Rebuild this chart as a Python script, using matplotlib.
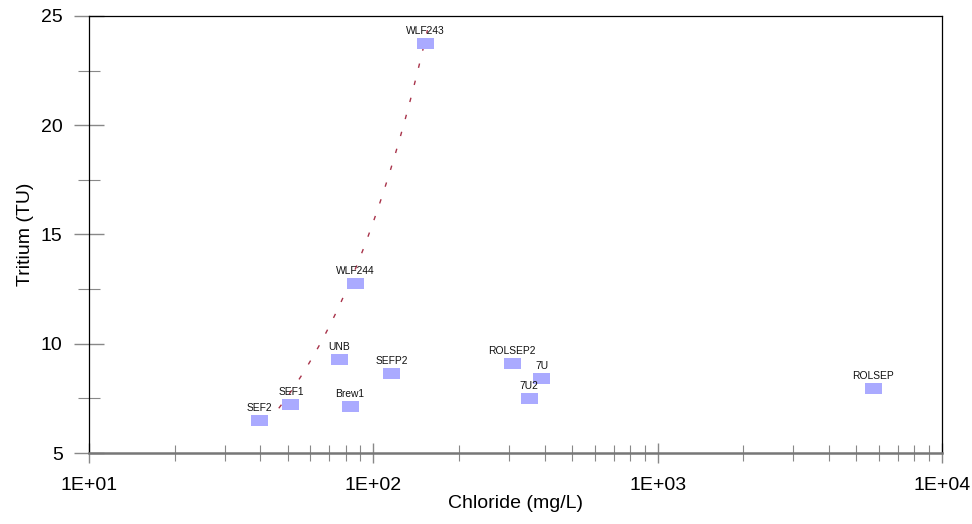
import numpy as np
import matplotlib
matplotlib.use("Agg")
import matplotlib.pyplot as plt
from matplotlib.ticker import FixedLocator, NullFormatter
from matplotlib.patches import Rectangle
from matplotlib.transforms import ScaledTranslation

plt.rcParams['font.family'] = ['Liberation Sans', 'DejaVu Sans']

# Data
sample_names = ["SEF2", "SEF1", "Brew1", "UNB", "SEFP2", "WLF244", "WLF243",
                "ROLSEP2", "7U", "7U2", "ROLSEP"]
chloride = [39.7, 51.3, 82.8, 76.0, 115.9, 86.5, 152.6, 307.6, 391.7, 353.0, 5724.0]
tritium = [6.51, 7.20, 7.15, 9.28, 8.64, 12.76, 23.74, 9.10, 8.43, 7.49, 7.97]

# Linear trend line (straight in linear space, curved on log axis)
fit_x_range = [46.5, 155.0]
fit_slope = 0.1595
fit_intercept = -0.37

x_ticks = [10, 100, 1000, 10000]
x_tick_labels = ["1E+01", "1E+02", "1E+03", "1E+04"]
y_ticks = [5, 10, 15, 20, 25]
y_minor_ticks = [7.5, 12.5, 17.5, 22.5]

fig = plt.figure(figsize=(9.72, 5.24), dpi=100)
ax = fig.add_axes([89/972, 71/524, (942-89)/972, (453-16)/524])

fx = np.linspace(fit_x_range[0], fit_x_range[1], 300)
fy = fit_intercept + fit_slope * fx
ax.plot(fx, fy, color="#A8334A", lw=1.0, ls=(0, (3.2, 9.5)), zorder=2)

# rectangular markers of fixed pixel size (17 x 11 px)
for x, y, name in zip(chloride, tritium, sample_names):
    r = Rectangle((-8.5/100, -5.5/100), 17/100, 11/100, facecolor="#AAAAFF",
                  edgecolor="none", zorder=3)
    r.set_transform(fig.dpi_scale_trans + ScaledTranslation(x, y, ax.transData))
    ax.add_patch(r)
    ax.annotate(name, (x, y), xytext=(0, 6.8), textcoords="offset points",
                ha="center", va="baseline", fontsize=7.4, color="#111111", zorder=4)

ax.set_xscale("log")
ax.set_xlim(10, 10000)
ax.set_ylim(5, 25)

ax.xaxis.set_major_locator(FixedLocator(x_ticks))
ax.set_xticklabels(x_tick_labels)
minor = [m * 10**d for d in range(1, 4) for m in range(2, 10)]
ax.xaxis.set_minor_locator(FixedLocator(minor))
ax.xaxis.set_minor_formatter(NullFormatter())
ax.set_yticks(y_ticks)
ax.yaxis.set_minor_locator(FixedLocator(y_minor_ticks))

ax.tick_params(axis="x", which="major", direction="inout", length=14, width=1,
               color="#888888", labelsize=14, pad=10)
ax.tick_params(axis="x", which="minor", direction="inout", length=12, width=0.8,
               color="#888888")
ax.tick_params(axis="y", which="major", direction="inout", length=22, width=1,
               color="#888888", labelsize=14, pad=8)
ax.tick_params(axis="y", which="minor", direction="inout", length=16, width=0.8,
               color="#888888")
ax.tick_params(top=False, right=False)

for s in ["top", "right", "left"]:
    ax.spines[s].set_color("black")
    ax.spines[s].set_linewidth(0.9)
ax.spines["bottom"].set_color("#777777")
ax.spines["bottom"].set_linewidth(1.8)

ax.set_xlabel("Chloride (mg/L)", fontsize=14, labelpad=1)
ax.set_ylabel("Tritium (TU)", fontsize=14, labelpad=5)

fig.savefig("out.png", dpi=100)
